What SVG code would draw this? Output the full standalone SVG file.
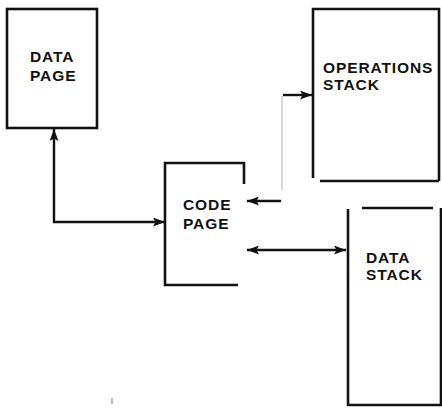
<svg xmlns="http://www.w3.org/2000/svg" width="442" height="410" viewBox="0 0 442 410">
<style>
.box{fill:none;stroke:#111;stroke-width:2.6}
.ln{fill:none;stroke:#111;stroke-width:2.4}
.faint{fill:none;stroke:#ccc;stroke-width:1.5}
text{font-family:"Liberation Sans",Arial,sans-serif;font-weight:bold;font-size:15.5px;fill:#111;letter-spacing:0.9px}
</style>
<defs>
<marker id="ah" viewBox="0 0 12 9" refX="12" refY="4.5" markerWidth="12" markerHeight="9" markerUnits="userSpaceOnUse" orient="auto-start-reverse">
<path d="M0,0 L12,4.5 L0,9 L2.5,4.5 Z" fill="#111"/>
</marker>
</defs>
<rect width="442" height="410" fill="#fff"/>
<g id="data-page">
<rect class="box" x="7" y="9" width="90" height="119"/>
<text x="30" y="62">DATA</text>
<text x="30" y="81">PAGE</text>
</g>
<g id="operations-stack">
<path class="box" d="M313,178 V9 H439 V181 M320,181 H439"/>
<text x="323" y="73">OPERATIONS</text>
<text x="323" y="90">STACK</text>
</g>
<g id="code-page">
<path class="box" d="M244,184 V163 H165 V285 H238"/>
<text x="183" y="210">CODE</text>
<text x="183" y="229">PAGE</text>
</g>
<g id="data-stack">
<path class="box" d="M362,208 H433 M441,208 V405 H348 V209"/>
<text x="366" y="263">DATA</text>
<text x="366" y="280">STACK</text>
</g>
<g id="connectors">
<path class="ln" d="M165,222 H54 V129" marker-end="url(#ah)" marker-start="url(#ah)"/>
<path class="faint" d="M282,96 V190"/>
<path class="ln" d="M283,95 H312" marker-end="url(#ah)"/>
<path class="ln" d="M281,201 H247" marker-end="url(#ah)"/>
<path class="ln" d="M247,250 H346" marker-start="url(#ah)" marker-end="url(#ah)"/>
<path d="M112,398 V404" stroke="#888" stroke-width="1.2"/>
</g>
</svg>
